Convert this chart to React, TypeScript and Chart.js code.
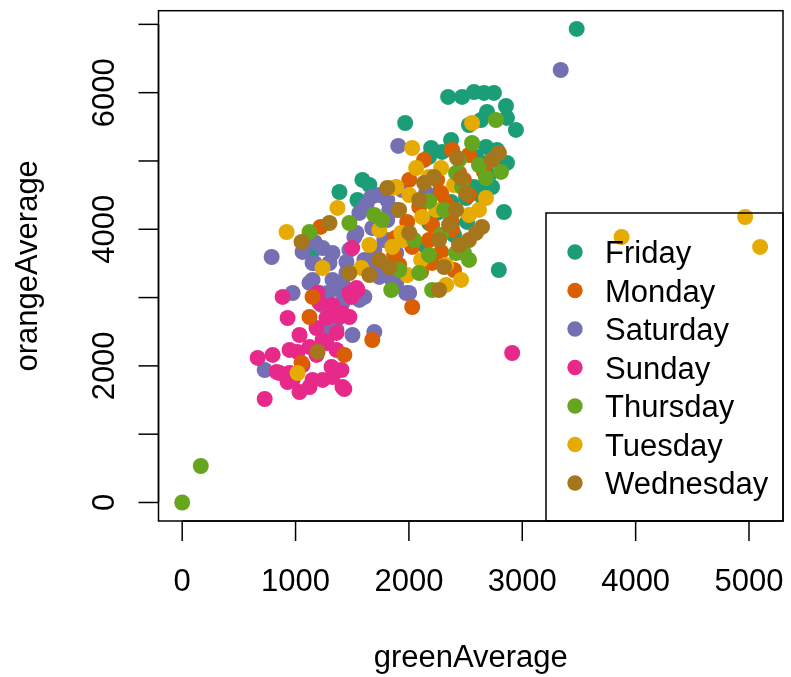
import React, { useEffect, useRef } from "react";
import { Chart, registerables } from "chart.js";

Chart.register(...registerables);

// ---- data (greenAverage, orangeAverage) per weekday ----
const dayNames = ["Friday", "Monday", "Saturday", "Sunday", "Thursday", "Tuesday", "Wednesday"];
const dayColors = ["#1B9E77", "#D95F02", "#7570B3", "#E7298A", "#66A61E", "#E6AB02", "#A6761D"];

const friday: [number, number][] = [
  [3480, 6933], [1967, 5556], [2346, 5937], [2469, 5937], [2574, 6010], [2662, 5996], [2750, 5996],
  [2856, 5805], [2689, 5717], [2636, 5600], [2530, 5527], [2865, 5630], [2944, 5454], [2372, 5307],
  [2196, 5190], [2178, 5059], [2293, 5132], [2592, 5059], [2680, 5205], [2645, 4971], [2733, 5015],
  [2865, 4971], [2777, 5161], [2574, 4619], [2645, 4575], [2733, 4619], [2645, 4473], [2504, 4458],
  [2266, 4531], [2372, 4400], [2838, 4253], [2249, 4239], [2513, 4107], [2178, 4092], [2134, 3770],
  [2793, 3404], [2381, 4092], [1387, 4546], [1590, 4722], [1651, 4648], [1546, 4429], [1800, 3843],
  [1141, 3653], [2444, 4795], [2706, 4795], [2398, 3916],
];
const monday: [number, number][] = [
  [1220, 4034], [2003, 4722], [2091, 4327], [1985, 4107], [2029, 3741], [2284, 3668], [2381, 5161],
  [2372, 4136], [2205, 3507], [2249, 4722], [2381, 3990], [2486, 4722], [2442, 4824], [2328, 4385],
  [2205, 4063], [2108, 3375], [2284, 4531], [1123, 2716], [1677, 2379], [2029, 2862], [1431, 2160],
  [1053, 2042], [1150, 3009], [2530, 5088], [2662, 4839], [1879, 3873], [1914, 3477], [2178, 3843],
  [2398, 3404], [1870, 3624], [2530, 4502], [2134, 5015],
];
const saturday: [number, number][] = [
  [3339, 6332], [1906, 5220], [789, 3594], [1062, 3668], [1167, 3506], [1326, 3653], [1449, 3521],
  [1519, 3887], [1607, 4327], [1668, 4473], [1739, 4502], [1809, 4429], [1888, 4283], [1941, 4575],
  [1809, 4136], [1677, 4019], [2152, 4531], [1695, 3697], [1677, 3448], [1739, 3302], [1888, 3214],
  [1976, 3067], [1326, 3258], [1387, 3111], [1123, 3214], [1211, 3067], [974, 3067], [1607, 3009],
  [1167, 3814], [1238, 3726], [1150, 3506], [1299, 3506], [1475, 3697], [1537, 3946], [1563, 4239],
  [1625, 4356], [1827, 4283], [1607, 3551], [1721, 3404], [1150, 3258], [1413, 3214], [1853, 3258],
  [1888, 3843], [1449, 3360], [1651, 3404], [1238, 2921], [1413, 2921], [1563, 2965], [1299, 2570],
  [1361, 2526], [1502, 2452], [1695, 2496], [728, 1940], [2002, 3067], [1282, 3067], [1229, 2892],
  [1783, 3843], [1888, 3653],
];
const sunday: [number, number][] = [
  [886, 3009], [930, 2701], [1035, 2452], [1185, 2555], [1273, 2335], [1361, 2482], [1475, 2716],
  [1546, 3111], [1493, 3009], [1413, 2775], [666, 2116], [798, 2160], [833, 1911], [947, 1896],
  [1018, 2204], [1062, 2013], [930, 1764], [1035, 1618], [1123, 1691], [1238, 1794], [1326, 1837],
  [1405, 1940], [1414, 1691], [1317, 1984], [1238, 2379], [1123, 2277], [1185, 2160], [728, 1515],
  [1361, 2233], [1273, 2701], [1326, 2892], [1475, 3067], [1500, 3726], [1194, 3067], [1537, 3140],
  [1387, 2716], [1212, 2921], [947, 2233], [859, 1896], [974, 1794], [1150, 1794], [2911, 2189],
  [1430, 1662],
];
const thursday: [number, number][] = [
  [0, 0], [164, 534], [1844, 3111], [2091, 3360], [2205, 3111], [2416, 3653], [2486, 3653],
  [2768, 5600], [2557, 5263], [2284, 3916], [2442, 5015], [2812, 4839], [2469, 4619], [2416, 4824],
  [1765, 4136], [1475, 4092], [1123, 3960], [2178, 4414], [2618, 4941], [2310, 4283], [2046, 3843],
  [2680, 4751], [1914, 3404], [2530, 3551], [2178, 3624], [1695, 4210],
];
const tuesday: [number, number][] = [
  [5098, 3741], [4966, 4180], [3876, 3887], [921, 3960], [1370, 4312], [2029, 5190], [2460, 3258],
  [2108, 3551], [2328, 3477], [1985, 3331], [2557, 5556], [2064, 4897], [2284, 4897], [2680, 4458],
  [1932, 3946], [1238, 3433], [2178, 4766], [1888, 4619], [1941, 3843], [2240, 4283], [2117, 4180],
  [1853, 3741], [1581, 3433], [1853, 4605], [1018, 1896], [2398, 4648], [2530, 4209], [1739, 3990],
  [1651, 3770], [2328, 3185], [2618, 4283], [2003, 4502],
];
const wednesday: [number, number][] = [
  [1299, 4092], [1053, 3814], [1809, 4605], [2134, 4678], [2425, 5044], [2460, 4751], [2003, 3946],
  [2645, 4034], [2530, 3843], [1827, 3448], [2266, 3111], [2794, 5117], [2733, 5015], [1475, 3360],
  [2504, 4531], [2592, 3946], [2310, 3448], [2416, 4283], [2222, 4766], [1194, 2204], [1651, 3331],
  [2091, 4429], [1914, 4283], [2354, 4063], [2266, 3843], [1739, 3551], [2442, 3770],
];

const seriesByDay: [number, number][][] = [friday, monday, saturday, sunday, thursday, tuesday, wednesday];
// order in which series are drawn (first = bottom)
const drawOrder = [6, 4, 5, 1, 3, 2, 0];

const xTicks = [0, 1000, 2000, 3000, 4000, 5000];
const yTicks = [0, 1000, 2000, 3000, 4000, 5000, 6000, 7000];
const yTickLabels = [0, 2000, 4000, 6000];
const xTitle = "greenAverage";
const yTitle = "orangeAverage";

const FONT = '31px "Liberation Sans", Arial, Helvetica, sans-serif';

const rBasePlugin = {
  id: "rBase",
  afterDraw(chart: any) {
    const ctx = chart.ctx as CanvasRenderingContext2D;
    const area = chart.chartArea;
    const xs = chart.scales.x;
    const ys = chart.scales.y;
    ctx.save();
    ctx.strokeStyle = "#000";
    ctx.fillStyle = "#000";
    ctx.lineWidth = 1.5;
    // box
    ctx.strokeRect(area.left, area.top, area.right - area.left, area.bottom - area.top);
    ctx.font = FONT;
    // x axis
    const x0 = xs.getPixelForValue(xTicks[0]);
    const x1 = xs.getPixelForValue(xTicks[xTicks.length - 1]);
    ctx.beginPath();
    ctx.moveTo(x0, area.bottom);
    ctx.lineTo(x1, area.bottom);
    ctx.stroke();
    ctx.textAlign = "center";
    ctx.textBaseline = "alphabetic";
    xTicks.forEach((v) => {
      const px = xs.getPixelForValue(v);
      ctx.beginPath();
      ctx.moveTo(px, area.bottom);
      ctx.lineTo(px, area.bottom + 20);
      ctx.stroke();
      ctx.fillText(String(v), px, 591);
    });
    // y axis
    const y0 = ys.getPixelForValue(yTicks[0]);
    const y1 = ys.getPixelForValue(yTicks[yTicks.length - 1]);
    ctx.beginPath();
    ctx.moveTo(area.left, y0);
    ctx.lineTo(area.left, y1);
    ctx.stroke();
    yTicks.forEach((v) => {
      const py = ys.getPixelForValue(v);
      ctx.beginPath();
      ctx.moveTo(area.left, py);
      ctx.lineTo(area.left - 20, py);
      ctx.stroke();
    });
    yTickLabels.forEach((v) => {
      const py = ys.getPixelForValue(v);
      ctx.save();
      ctx.translate(114, py);
      ctx.rotate(-Math.PI / 2);
      ctx.fillText(String(v), 0, 0);
      ctx.restore();
    });
    // titles
    ctx.fillText(xTitle, (area.left + area.right) / 2, 667);
    ctx.save();
    ctx.translate(37, (area.top + area.bottom) / 2);
    ctx.rotate(-Math.PI / 2);
    ctx.fillText(yTitle, 0, 0);
    ctx.restore();
    // legend box
    const lx = 546;
    const ly = 213;
    ctx.strokeRect(lx, ly, area.right - lx, area.bottom - ly);
    ctx.textAlign = "left";
    dayNames.forEach((name, i) => {
      const cy = 252 + i * 38.5;
      ctx.fillStyle = dayColors[i];
      ctx.beginPath();
      ctx.arc(575, cy, 7.7, 0, Math.PI * 2);
      ctx.fill();
      ctx.fillStyle = "#000";
      ctx.fillText(name, 605, cy + 11);
    });
    ctx.restore();
  },
};

export default function App() {
  const canvasRef = useRef<HTMLCanvasElement | null>(null);
  useEffect(() => {
    document.body.style.margin = "0";
    const canvas = canvasRef.current;
    if (!canvas) return;
    const datasets = drawOrder.map((i) => ({
      label: dayNames[i],
      data: seriesByDay[i].map(([x, y]) => ({ x, y })),
      backgroundColor: dayColors[i],
      borderColor: dayColors[i],
      borderWidth: 0,
      pointRadius: 8,
      pointHoverRadius: 8,
    }));
    const chart = new Chart(canvas, {
      type: "scatter",
      data: { datasets },
      options: {
        responsive: false,
        animation: false,
        events: [],
        layout: { padding: { left: 158.5, right: 6, top: 10.7, bottom: 156 } },
        plugins: { legend: { display: false }, tooltip: { enabled: false } },
        scales: {
          x: { type: "linear", min: -209, max: 5300, display: false },
          y: { type: "linear", min: -271, max: 7200, display: false },
        },
      },
      plugins: [rBasePlugin],
    });
    return () => chart.destroy();
  }, []);
  return (
    <div style={{ position: "absolute", left: 0, top: 0, width: 791, height: 677, background: "#fff" }}>
      <canvas ref={canvasRef} width={791} height={677} />
    </div>
  );
}
